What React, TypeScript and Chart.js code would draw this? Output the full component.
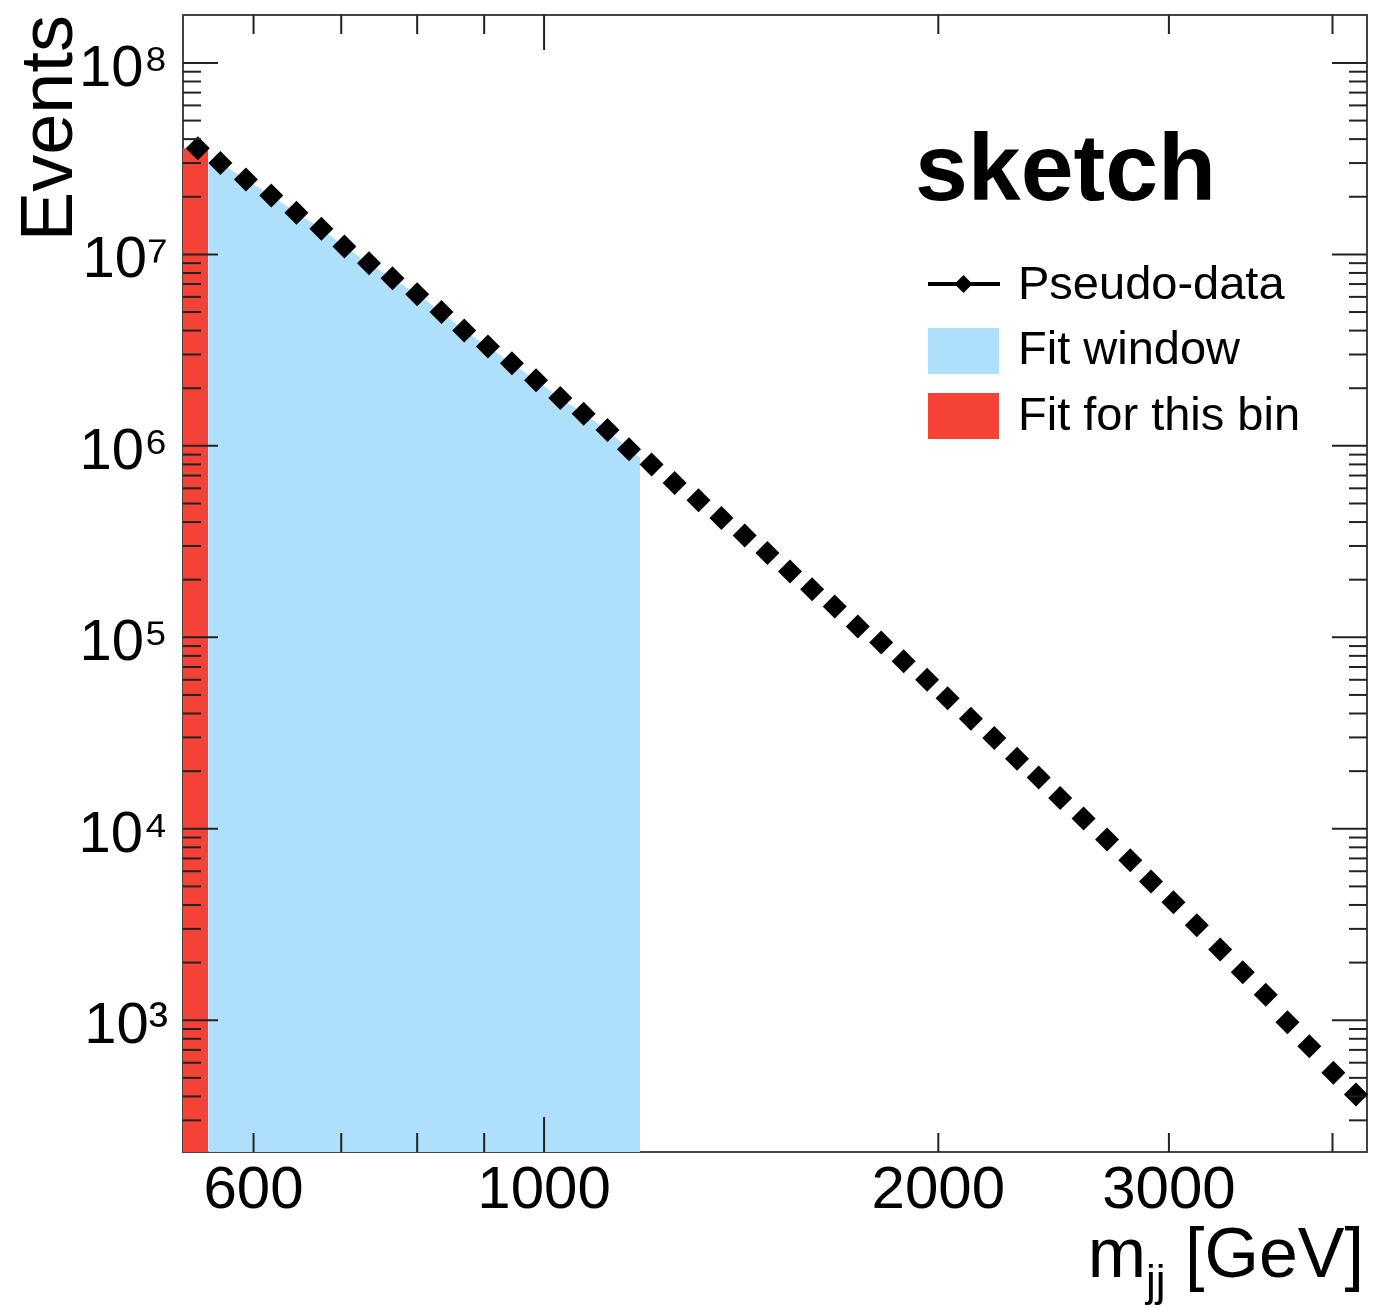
import React, { useEffect, useRef } from 'react';
import { Chart, registerables } from 'chart.js';

Chart.register(...registerables);

// ---- data ----
const massGeV = [544, 566, 592, 619, 647, 676, 704, 735, 766, 800, 835, 869, 906, 945, 986, 1029, 1072, 1118, 1161, 1208, 1258, 1312, 1366, 1423, 1481, 1541, 1602, 1667, 1736, 1809, 1882, 1961, 2033, 2118, 2207, 2297, 2386, 2478, 2582, 2691, 2803, 2907, 3024, 3151, 3283, 3416, 3557, 3695, 3840, 4006, 4168];
const events = [3.59e7, 3.0e7, 2.46e7, 2.03e7, 1.65e7, 1.36e7, 1.1e7, 9.0e6, 7.5e6, 6.2e6, 5.0e6, 4.0e6, 3.3e6, 2.7e6, 2.2e6, 1.78e6, 1.47e6, 1.21e6, 9.6e5, 8.0e5, 6.4e5, 5.2e5, 4.2e5, 3.4e5, 2.76e5, 2.21e5, 1.78e5, 1.45e5, 1.14e5, 9.4e4, 7.5e4, 6.0e4, 4.8e4, 3.75e4, 2.98e4, 2.32e4, 1.85e4, 1.45e4, 1.13e4, 8.8e3, 6.85e3, 5.3e3, 4.13e3, 3.13e3, 2.34e3, 1.78e3, 1.36e3, 976, 731, 531, 409];

const fitBinEdges = [530, 554];
const fitBinEvents = [3.59e7, 3.59e7];
const fitWindowEdges = [554, 1184];
const fitWindowEdgeEvents = [3.05e7, 8.7e5];

const xRange = [530, 4250];
const yRange = [205, 1.78e8];
const xLabelTicks = [600, 1000, 2000, 3000];
const xMajorTicks = [1000];
const xMinorTicks = [600, 700, 800, 900, 2000, 3000, 4000];
const yDecades = [1e2, 1e3, 1e4, 1e5, 1e6, 1e7, 1e8];
const yLabelTicks = [1e3, 1e4, 1e5, 1e6, 1e7, 1e8];

const legendLabels = ['Pseudo-data', 'Fit window', 'Fit for this bin'];
const stampText = 'sketch';
const yTitle = 'Events';

const BLUE = '#afe0fb';
const RED = '#f44336';
const FONT = '"Liberation Sans", Arial, Helvetica, sans-serif';
const SUP = ['⁰', '¹', '²', '³', '⁴', '⁵', '⁶', '⁷', '⁸', '⁹'];

const rootTicksPlugin = {
  id: 'rootTicks',
  afterDatasetsDraw(chart: any) {
    const { ctx, chartArea, scales } = chart;
    const { left, right, top, bottom } = chartArea;
    const x = scales.x;
    const y = scales.y;
    ctx.save();
    ctx.strokeStyle = '#222';
    ctx.lineWidth = 2;
    const seg = (x1: number, y1: number, x2: number, y2: number) => {
      ctx.beginPath();
      ctx.moveTo(x1, y1);
      ctx.lineTo(x2, y2);
      ctx.stroke();
    };
    xMinorTicks.forEach((v) => {
      const p = x.getPixelForValue(v);
      seg(p, bottom, p, bottom - 19);
      seg(p, top, p, top + 19);
    });
    xMajorTicks.forEach((v) => {
      const p = x.getPixelForValue(v);
      seg(p, bottom, p, bottom - 35);
      seg(p, top, p, top + 35);
    });
    yDecades.forEach((d) => {
      if (d >= yRange[0] && d <= yRange[1]) {
        const p = y.getPixelForValue(d);
        seg(left, p, left + 35, p);
        seg(right, p, right - 35, p);
      }
      for (let k = 2; k <= 9; k++) {
        const v = d * k;
        if (v < yRange[0] || v > yRange[1]) continue;
        const p = y.getPixelForValue(v);
        seg(left, p, left + 18, p);
        seg(right, p, right - 18, p);
      }
    });
    ctx.restore();
  },
};

const overlayPlugin = {
  id: 'overlay',
  afterDraw(chart: any) {
    const { ctx, chartArea } = chart;
    const { right } = chartArea;
    ctx.save();
    ctx.fillStyle = '#000';
    ctx.textAlign = 'left';

    // stamp
    ctx.font = `bold 95px ${FONT}`;
    ctx.textBaseline = 'alphabetic';
    ctx.fillText(stampText, 915, 200);

    // legend
    const lx = 928;
    const boxW = 71;
    ctx.font = `47px ${FONT}`;
    ctx.textBaseline = 'middle';
    const ly0 = 284;
    ctx.strokeStyle = '#000';
    ctx.lineWidth = 4;
    ctx.beginPath();
    ctx.moveTo(lx, ly0);
    ctx.lineTo(lx + boxW + 1, ly0);
    ctx.stroke();
    ctx.beginPath();
    const cx = lx + boxW / 2;
    const r = 9;
    ctx.moveTo(cx, ly0 - r);
    ctx.lineTo(cx + r, ly0);
    ctx.lineTo(cx, ly0 + r);
    ctx.lineTo(cx - r, ly0);
    ctx.closePath();
    ctx.fill();
    ctx.fillText(legendLabels[0], 1018, ly0 + 2);
    ctx.fillStyle = BLUE;
    ctx.fillRect(lx, 328, boxW, 46);
    ctx.fillStyle = '#000';
    ctx.fillText(legendLabels[1], 1018, 351);
    ctx.fillStyle = RED;
    ctx.fillRect(lx, 393, boxW, 46);
    ctx.fillStyle = '#000';
    ctx.fillText(legendLabels[2], 1018, 417);

    // x-axis title m_jj [GeV]
    ctx.textBaseline = 'alphabetic';
    const big = `70px ${FONT}`;
    const small = `44px ${FONT}`;
    ctx.font = big;
    const wm = ctx.measureText('m').width;
    const wg = ctx.measureText(' [GeV]').width;
    ctx.font = small;
    const wj = ctx.measureText('jj').width;
    const xs = right - 3 - wg - wj - wm;
    ctx.font = big;
    ctx.fillText('m', xs, 1277);
    ctx.font = small;
    ctx.fillText('jj', xs + wm, 1296);
    ctx.font = big;
    ctx.fillText(' [GeV]', xs + wm + wj, 1277);
    ctx.restore();
  },
};

export default function App() {
  const canvasRef = useRef<HTMLCanvasElement | null>(null);

  useEffect(() => {
    const canvas = canvasRef.current;
    if (!canvas) return;

    const points = massGeV.map((m, i) => ({ x: m, y: events[i] }));
    const windowData = [
      { x: fitWindowEdges[0], y: fitWindowEdgeEvents[0] },
      ...points.filter((p) => p.x > fitWindowEdges[0] && p.x < fitWindowEdges[1]),
      { x: fitWindowEdges[1], y: fitWindowEdgeEvents[1] },
    ];
    const binData = fitBinEdges.map((e, i) => ({ x: e, y: fitBinEvents[i] }));

    const borderCfg = { display: true, color: '#444', width: 2 };
    const noPad = (s: any) => {
      s.paddingTop = 0;
      s.paddingBottom = 0;
      s.paddingLeft = 0;
      s.paddingRight = 0;
    };

    const chart = new Chart(canvas, {
      type: 'line',
      data: {
        datasets: [
          {
            label: legendLabels[0],
            data: points,
            showLine: false,
            pointStyle: 'rectRot',
            pointRadius: 12,
            pointHoverRadius: 12,
            pointBackgroundColor: '#000',
            pointBorderColor: '#000',
            pointBorderWidth: 0,
            borderColor: '#000',
            clip: 14,
            order: 0,
          },
          {
            label: legendLabels[1],
            data: windowData,
            borderWidth: 0,
            borderColor: 'rgba(0,0,0,0)',
            pointRadius: 0,
            fill: 'start',
            backgroundColor: BLUE,
            tension: 0,
            order: 1,
          },
          {
            label: legendLabels[2],
            data: binData,
            borderWidth: 0,
            borderColor: 'rgba(0,0,0,0)',
            pointRadius: 0,
            fill: 'start',
            backgroundColor: RED,
            tension: 0,
            order: 2,
          },
        ],
      } as any,
      options: {
        animation: false,
        responsive: false,
        devicePixelRatio: 1,
        layout: { autoPadding: false, padding: { top: 15, right: 8, left: 0, bottom: 0 } },
        plugins: {
          legend: { display: false },
          tooltip: { enabled: false },
        },
        scales: {
          x: {
            type: 'logarithmic',
            position: 'bottom',
            min: xRange[0],
            max: xRange[1],
            z: 1,
            afterBuildTicks: (s: any) => {
              s.ticks = xLabelTicks.map((v) => ({ value: v }));
            },
            afterFit: (s: any) => {
              s.height = 156;
              noPad(s);
            },
            ticks: {
              callback: (v: any) => String(v),
              font: { family: FONT, size: 60 },
              color: '#000',
              padding: 3,
              maxRotation: 0,
              autoSkip: false,
            },
            grid: { display: false, drawTicks: false },
            border: borderCfg,
          },
          x2: {
            type: 'logarithmic',
            position: 'top',
            min: xRange[0],
            max: xRange[1],
            z: 1,
            afterFit: (s: any) => {
              s.height = 0;
              noPad(s);
            },
            ticks: { display: false },
            grid: { display: false, drawTicks: false },
            border: borderCfg,
          },
          y: {
            type: 'logarithmic',
            position: 'left',
            min: yRange[0],
            max: yRange[1],
            z: 1,
            afterBuildTicks: (s: any) => {
              s.ticks = yLabelTicks.map((v) => ({ value: v }));
            },
            afterFit: (s: any) => {
              s.width = 183;
              noPad(s);
            },
            ticks: {
              callback: (v: any) => '10' + SUP[Math.round(Math.log10(Number(v)))],
              font: { family: FONT, size: 58 },
              color: '#000',
              padding: 15,
              labelOffset: 7,
              autoSkip: false,
            },
            title: {
              display: true,
              text: yTitle,
              align: 'end',
              color: '#000',
              font: { family: FONT, size: 74 },
              padding: { top: 7, bottom: 0 },
            },
            grid: { display: false, drawTicks: false },
            border: borderCfg,
          },
          y2: {
            type: 'logarithmic',
            position: 'right',
            min: yRange[0],
            max: yRange[1],
            z: 1,
            afterFit: (s: any) => {
              s.width = 0;
              noPad(s);
            },
            ticks: { display: false },
            grid: { display: false, drawTicks: false },
            border: borderCfg,
          },
        },
      } as any,
      plugins: [rootTicksPlugin, overlayPlugin],
    });

    return () => {
      chart.destroy();
    };
  }, []);

  return (
    <div style={{ position: 'absolute', left: 0, top: 0, width: 1375, height: 1308, background: '#fff' }}>
      <canvas ref={canvasRef} width={1375} height={1308} style={{ display: 'block', width: 1375, height: 1308 }} />
    </div>
  );
}
